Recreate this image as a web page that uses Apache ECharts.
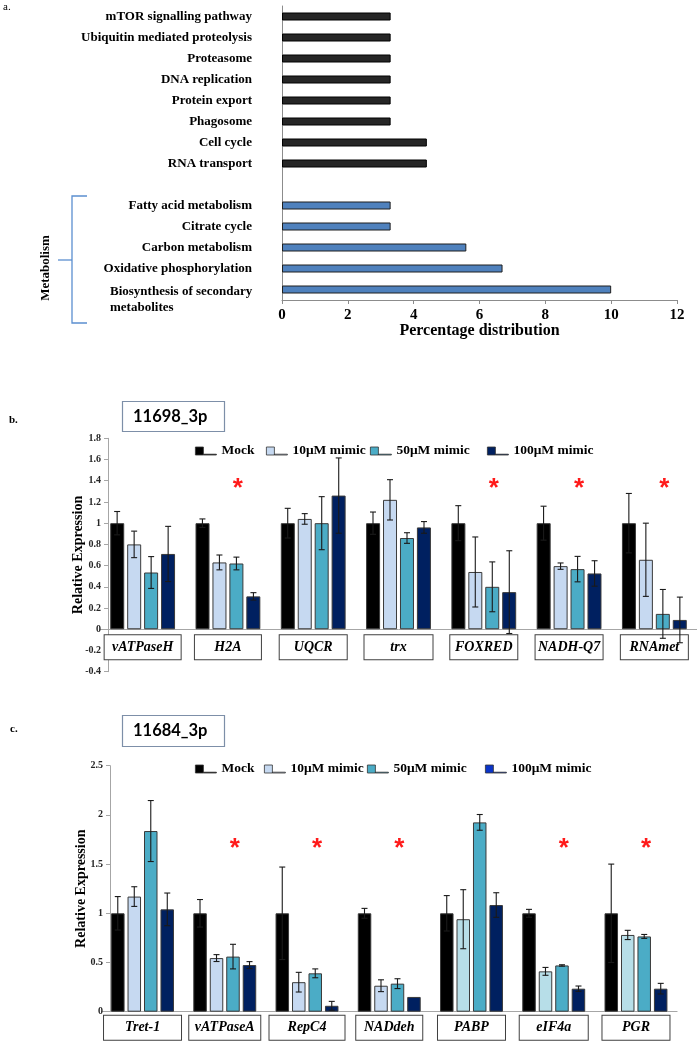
<!DOCTYPE html>
<html>
<head>
<meta charset="utf-8">
<script src="https://cdn.jsdelivr.net/npm/echarts@6/dist/echarts.min.js"></script>
<style>html,body{margin:0;padding:0;background:#fff;}#main{width:697px;height:1042px;}</style>
</head>
<body>
<div id="main"></div>
<script>
// ---------- DATA ----------
// Panel a: KEGG pathway distribution ('' = spacer row)
const pathways = ['mTOR signalling pathway','Ubiquitin mediated proteolysis','Proteasome','DNA replication','Protein export','Phagosome','Cell cycle','RNA transport','','Fatty acid metabolism','Citrate cycle','Carbon metabolism','Oxidative phosphorylation','Biosynthesis of secondary\nmetabolites'];
const pathwayPct = [3.3,3.3,3.3,3.3,3.3,3.3,4.4,4.4,null,3.3,3.3,5.6,6.7,10];
const pathwayIsMetabolism = [false,false,false,false,false,false,false,false,false,true,true,true,true,true];
const xTicksA = [0,2,4,6,8,10,12];

const treatments = ['Mock','10μM mimic','50μM mimic','100μM mimic'];

// Panel b: 11698_3p
const genesB = ['vATPaseH','H2A','UQCR','trx','FOXRED','NADH-Q7','RNAmet'];
const meanB_mock = [1,1,1,1,1,1,1];
const meanB_10   = [0.80,0.63,1.04,1.22,0.54,0.595,0.655];
const meanB_50   = [0.535,0.62,1.0,0.86,0.40,0.567,0.145];
const meanB_100  = [0.71,0.31,1.26,0.96,0.35,0.526,0.088];
const errB_mock  = [0.11,0.04,0.14,0.105,0.165,0.16,0.28];
const errB_10    = [0.125,0.07,0.05,0.19,0.33,0.03,0.345];
const errB_50    = [0.15,0.06,0.25,0.05,0.235,0.12,0.23];
const errB_100   = [0.26,0.035,0.355,0.055,0.39,0.12,0.215];
const sigB = ['H2A','FOXRED','NADH-Q7','RNAmet'];
const sigYB = 1.37;

// Panel c: 11684_3p
const genesC = ['Tret-1','vATPaseA','RepC4','NADdeh','PABP','eIF4a','PGR'];
const meanC_mock = [1,1,1,1,1,1,1];
const meanC_10   = [1.17,0.545,0.30,0.264,0.94,0.41,0.78];
const meanC_50   = [1.836,0.56,0.39,0.285,1.924,0.47,0.765];
const meanC_100  = [1.04,0.474,0.06,0.15,1.084,0.234,0.234];
const errC_mock  = [0.17,0.14,0.47,0.05,0.18,0.04,0.5];
const errC_10    = [0.10,0.035,0.10,0.06,0.30,0.04,0.047];
const errC_50    = [0.31,0.125,0.045,0.05,0.08,0.007,0.02];
const errC_100   = [0.166,0.035,0.045,0,0.125,0.027,0.054];
const sigC = ['vATPaseA','RepC4','NADdeh','eIF4a','PGR'];
const sigYC = 1.71;

// ---------- STYLE ----------
const SERIF = '"Liberation Serif","Times New Roman",serif';
const colMock = '#000000', col10 = '#c6d9f1', col10b = '#b7dee8', col50 = '#4bacc6', col100 = '#002060';
const colorsB = [colMock, col10, col50, col100];
const col10C = [col10, col10, col10, col10, col10b, col10b, col10b];
const boxW_B = {'vATPaseH':66,'H2A':56,'UQCR':57,'trx':58,'FOXRED':57,'NADH-Q7':57,'RNAmet':57};
const boxW_C = {'Tret-1':67,'vATPaseA':61,'RepC4':65,'NADdeh':56,'PABP':57,'eIF4a':58,'PGR':57};
const pitchB = 17, pitchC = 16.5;
const gridB = {left:100, top:438.3, width:597, height:233.4};
const yMinB = -0.4, yMaxB = 1.8;

const chart = echarts.init(document.getElementById('main'), null, {renderer:'canvas'});

function errData(means, errs) {
  const out = [];
  means.forEach((m, s) => {
    m.forEach((v, i) => {
      if (errs[s][i] > 0) out.push([i, s, v - errs[s][i], v + errs[s][i]]);
    });
  });
  return out;
}
function errRender(pitch) {
  return function (params, api) {
    const i = api.value(0), s = api.value(1), lo = api.value(2), hi = api.value(3);
    const pH = api.coord([i, hi]), pL = api.coord([i, lo]);
    const x = pH[0] + (s - 1.5) * pitch;
    const st = {stroke:'#1a1a1a', lineWidth:1.1};
    return {type:'group', children:[
      {type:'line', shape:{x1:x, y1:pH[1], x2:x, y2:pL[1]}, style:st},
      {type:'line', shape:{x1:x-3, y1:pH[1], x2:x+3, y2:pH[1]}, style:st},
      {type:'line', shape:{x1:x-3, y1:pL[1], x2:x+3, y2:pL[1]}, style:st}
    ]};
  };
}
function starRender(params, api) {
  const p = api.coord([api.value(0), api.value(1)]);
  return {type:'text', x:p[0] + 10, y:p[1] + 5, style:{text:'*', fill:'#ff1a1a', font:'bold 26px "Liberation Sans",Arial,sans-serif', align:'center', verticalAlign:'middle'}};
}

const catLabelBase = {
  interval:0, fontFamily:SERIF, fontStyle:'italic', fontWeight:'bold', fontSize:14, color:'#000',
  backgroundColor:'#fff', borderColor:'#404040', borderWidth:1, padding:[1,5], lineHeight:22,
  align:'center', overflow:'none'
};
const valueAxisBase = {
  type:'value', splitLine:{show:false},
  axisLine:{show:true, lineStyle:{color:'#a6a6a6'}},
  axisTick:{show:true, length:4, lineStyle:{color:'#a6a6a6'}},
  axisLabel:{fontFamily:SERIF, fontWeight:'bold', fontSize:10, color:'#262626', margin:7},
  name:'Relative Expression', nameLocation:'middle', nameRotate:90, nameMoveOverlap:false,
  nameTextStyle:{fontFamily:SERIF, fontWeight:'bold', fontSize:14, color:'#000'}
};

const legendIcon = 'path://M0,0H8V8H0Z M8,7.2H21V8H8Z';
const legendXs = [195, 266, 370, 487];
const legendXsC = [195, 264, 367, 485];
const legends = [];
treatments.forEach((t, k) => {
  legends.push({left:legendXs[k], top:444, padding:0, selectedMode:false, icon:legendIcon, itemWidth:21, itemHeight:8,
    itemStyle:{borderWidth:0.8, borderColor:'#333'},
    data:[t], textStyle:{fontFamily:SERIF, fontWeight:'bold', fontSize:13.5, color:'#000'}});
  legends.push({left:legendXsC[k], top:762, padding:0, selectedMode:false, icon:legendIcon, itemWidth:21, itemHeight:8,
    itemStyle:{borderWidth:0.8, borderColor:'#333'},
    data:[k === 3 ? {name:t, itemStyle:{color:'#0a34c8'}} : t], textStyle:{fontFamily:SERIF, fontWeight:'bold', fontSize:13.5, color:'#000'}});
});

const meansB = [meanB_mock, meanB_10, meanB_50, meanB_100];
const errsB = [errB_mock, errB_10, errB_50, errB_100];
const meansC = [meanC_mock, meanC_10, meanC_50, meanC_100];
const errsC = [errC_mock, errC_10, errC_50, errC_100];

const series = [];
series.push({
  type:'bar', xAxisIndex:0, yAxisIndex:0, barWidth:8,
  data: pathwayPct.map((v, i) => ({value: v, itemStyle: pathwayIsMetabolism[i]
    ? {color:'#4f81bd', borderColor:'#1f1f1f', borderWidth:1}
    : {color:'#262626', borderColor:'#000', borderWidth:1}}))
});
treatments.forEach((t, s) => {
  series.push({type:'bar', name:t, xAxisIndex:1, yAxisIndex:1, barWidth:14, barGap:'21%',
    itemStyle:{color:colorsB[s], borderColor:'#3a3a3a', borderWidth:1}, data: meansB[s]});
});
treatments.forEach((t, s) => {
  series.push({type:'bar', name:t, xAxisIndex:2, yAxisIndex:2, barWidth:13.5, barGap:'22%',
    itemStyle:{color:colorsB[s], borderColor:'#3a3a3a', borderWidth:1},
    data: s === 1 ? meansC[s].map((v, i) => ({value:v, itemStyle:{color:col10C[i]}})) : meansC[s]});
});
series.push({type:'custom', xAxisIndex:1, yAxisIndex:1, renderItem:errRender(pitchB), encode:{x:0, y:[2,3]}, data:errData(meansB, errsB), z:5, silent:true});
series.push({type:'custom', xAxisIndex:2, yAxisIndex:2, renderItem:errRender(pitchC), encode:{x:0, y:[2,3]}, data:errData(meansC, errsC), z:5, silent:true});
series.push({type:'custom', xAxisIndex:1, yAxisIndex:1, renderItem:starRender, encode:{x:0, y:1}, data:sigB.map(g => [genesB.indexOf(g), sigYB]), z:6, silent:true});
series.push({type:'custom', xAxisIndex:2, yAxisIndex:2, renderItem:starRender, encode:{x:0, y:1}, data:sigC.map(g => [genesC.indexOf(g), sigYC]), z:6, silent:true});

// x-axis of panel b sits on the zero line: shift it up by the pixel height of the negative range
const zeroShiftB = -gridB.height * (0 - yMinB) / (yMaxB - yMinB);

const option = {
  animation:false,
  backgroundColor:'#ffffff',
  legend: legends,
  grid:[
    {left:282, top:6, width:395, height:294},
    gridB,
    {left:101.4, top:765.7, width:575.7, height:246}
  ],
  xAxis:[
    {gridIndex:0, type:'value', min:xTicksA[0], max:xTicksA[xTicksA.length-1], interval:2,
      splitLine:{show:false},
      axisLine:{show:true, lineStyle:{color:'#8c8c8c'}},
      axisTick:{show:true, length:4, lineStyle:{color:'#8c8c8c'}},
      axisLabel:{fontFamily:SERIF, fontWeight:'bold', fontSize:15, color:'#000', margin:8},
      name:'Percentage distribution', nameLocation:'middle', nameGap:23, nameMoveOverlap:false,
      nameTextStyle:{fontFamily:SERIF, fontWeight:'bold', fontSize:16, color:'#000'}},
    {gridIndex:1, type:'category', data: genesB.map(g => ({value:g, textStyle:{width:boxW_B[g]}})),
      offset: zeroShiftB,
      axisLine:{onZero:false, lineStyle:{color:'#a6a6a6'}}, axisTick:{show:false},
      axisLabel:Object.assign({}, catLabelBase, {margin:6})},
    {gridIndex:2, type:'category', data: genesC.map(g => ({value:g, textStyle:{width:boxW_C[g]}})),
      axisLine:{onZero:false, lineStyle:{color:'#a6a6a6'}}, axisTick:{show:false},
      axisLabel:Object.assign({}, catLabelBase, {margin:4})}
  ],
  yAxis:[
    {gridIndex:0, type:'category', inverse:true, data:pathways,
      axisLine:{show:true, lineStyle:{color:'#8c8c8c'}}, axisTick:{show:false},
      axisLabel:{interval:0, margin:30, fontFamily:SERIF, fontWeight:'bold', fontSize:13, color:'#000',
        formatter: function (v) {
          if (v.indexOf('\n') >= 0) {
            const parts = v.split('\n');
            return '{sp| }\n' + parts.map(p => '{m|' + p + '}').join('\n');
          }
          return v;
        },
        rich:{
          sp:{lineHeight:20, fontSize:8},
          m:{width:142, align:'left', fontFamily:SERIF, fontWeight:'bold', fontSize:13, color:'#000', lineHeight:16}
        }}},
    Object.assign({}, valueAxisBase, {gridIndex:1, min:yMinB, max:yMaxB, interval:0.2, offset:-8, nameGap:23}),
    Object.assign({}, valueAxisBase, {gridIndex:2, min:0, max:2.5, interval:0.5, offset:-8.6, nameGap:22})
  ],
  graphic:[
    {type:'text', left:3, top:2, style:{text:'a.', font:'11px ' + SERIF, fill:'#000'}},
    {type:'polyline', shape:{points:[[87,196],[72,196],[72,323],[87,323]]}, style:{stroke:'#5b8fd0', lineWidth:1.3, fill:null}},
    {type:'line', shape:{x1:58, y1:260, x2:72, y2:260}, style:{stroke:'#5b8fd0', lineWidth:1.3}},
    {type:'text', x:46, y:268, rotation:Math.PI/2, style:{text:'Metabolism', font:'bold 13px ' + SERIF, fill:'#000', align:'center', verticalAlign:'middle'}},

    {type:'text', left:9, top:415, style:{text:'b.', font:'bold 11px ' + SERIF, fill:'#000'}},
    {type:'rect', shape:{x:122.5, y:401.5, width:102, height:30}, style:{fill:'#fff', stroke:'#7d8fa8', lineWidth:1.2}},
    {type:'text', x:133, y:417, style:{text:'11698_3p', font:'bold 16.5px Lato,"Open Sans",sans-serif', fill:'#000', verticalAlign:'middle'}},

    {type:'text', left:10, top:724, style:{text:'c.', font:'bold 11px ' + SERIF, fill:'#000'}},
    {type:'rect', shape:{x:122.5, y:715.5, width:102, height:31}, style:{fill:'#fff', stroke:'#7d8fa8', lineWidth:1.2}},
    {type:'text', x:133, y:731, style:{text:'11684_3p', font:'bold 16.5px Lato,"Open Sans",sans-serif', fill:'#000', verticalAlign:'middle'}}
  ],
  series: series
};
chart.setOption(option);
</script>
</body>
</html>
